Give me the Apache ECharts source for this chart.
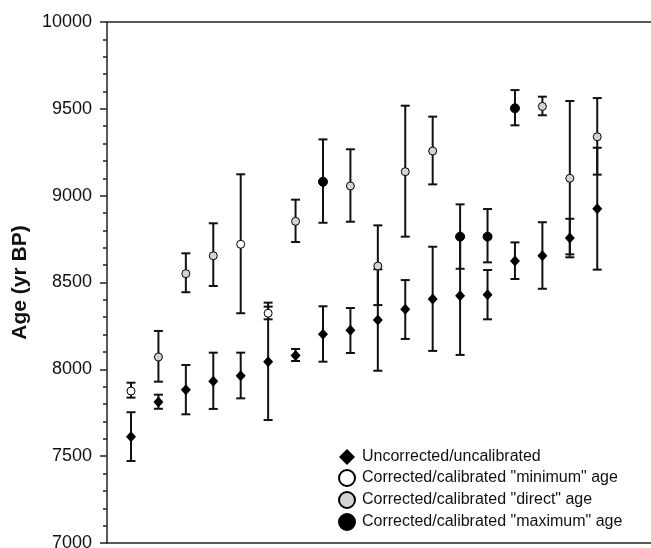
<!DOCTYPE html>
<html>
<head>
<meta charset="utf-8">
<script src="https://cdn.jsdelivr.net/npm/echarts@6/dist/echarts.min.js"></script>
<style>
html,body{margin:0;padding:0;background:#fff;}
#chart{width:651px;height:548px;}
</style>
</head>
<body>
<div id="chart"></div>
<script>
// Sample positions along the (unlabelled) x axis
const positions = [1,2,3,4,5,6,7,8,9,10,11,12,13,14,15,16,17,18];

// Uncorrected/uncalibrated (diamonds)
const uncorrVal  = [7612, 7812, 7883, 7931, 7963, 8044, 8080, 8202, 8225, 8284, 8346, 8405, 8424, 8430, 8624, 8654, 8756, 8925];
const uncorrLow  = [7472, 7773, 7741, 7772, 7833, 7708, 8048, 8044, 8094, 7992, 8175, 8106, 8083, 8288, 8520, 8464, 8645, 8574];
const uncorrHigh = [7753, 7854, 8025, 8096, 8096, 8384, 8117, 8363, 8353, 8576, 8514, 8706, 8765, 8572, 8731, 8847, 8867, 9276];

// Corrected/calibrated "minimum" age (open circles)
const minPos  = [1, 5, 6];
const minVal  = [7875, 8720, 8323];
const minLow  = [7837, 8323, 8288];
const minHigh = [7923, 9123, 8361];

// Corrected/calibrated "direct" age (grey circles)
const dirPos  = [2, 3, 4, 7, 9, 10, 11, 12, 16, 17, 18];
const dirVal  = [8071, 8551, 8654, 8852, 9056, 8595, 9138, 9257, 9514, 9100, 9339];
const dirLow  = [7929, 8444, 8480, 8733, 8850, 8370, 8764, 9065, 9463, 8662, 9121];
const dirHigh = [8221, 8668, 8841, 8977, 9267, 8829, 9518, 9455, 9570, 9545, 9562];

// Corrected/calibrated "maximum" age (black circles)
const maxPos  = [8, 13, 14, 15];
const maxVal  = [9080, 8764, 8764, 9503];
const maxLow  = [8844, 8579, 8616, 9405];
const maxHigh = [9324, 8950, 8923, 9608];

const yTicks = [7000, 7500, 8000, 8500, 9000, 9500, 10000];
const seriesNames = [
  'Uncorrected/uncalibrated',
  'Corrected/calibrated "minimum" age',
  'Corrected/calibrated "direct" age',
  'Corrected/calibrated "maximum" age'
];

const FONT = '"Liberation Sans", Arial, sans-serif';

function pts(xs, vs) { return xs.map((x, i) => [x, vs[i]]); }
function bars(xs, lo, hi) { return xs.map((x, i) => [x, lo[i], hi[i]]); }

function renderErr(params, api) {
  const x = api.value(0), lo = api.value(1), hi = api.value(2);
  const a = api.coord([x, lo]), b = api.coord([x, hi]);
  const hw = 4.5;
  const st = { stroke: '#111', lineWidth: 2, fill: null };
  return {
    type: 'group',
    children: [
      { type: 'line', shape: { x1: a[0], y1: a[1], x2: b[0], y2: b[1] }, style: st },
      { type: 'line', shape: { x1: a[0] - hw, y1: a[1], x2: a[0] + hw, y2: a[1] }, style: st },
      { type: 'line', shape: { x1: b[0] - hw, y1: b[1], x2: b[0] + hw, y2: b[1] }, style: st }
    ]
  };
}

function errSeries(id, data) {
  return {
    type: 'custom', name: id, renderItem: renderErr, data: data,
    encode: { x: 0, y: [1, 2] }, z: 2, silent: true
  };
}

const chart = echarts.init(document.getElementById('chart'), null, { renderer: 'canvas' });

const option = {
  animation: false,
  backgroundColor: '#fff',
  textStyle: { fontFamily: FONT },
  grid: { left: 107, right: 0, top: 22, bottom: 5, containLabel: false, outerBoundsMode: 'none' },
  legend: {
    data: [
      { name: seriesNames[0], itemStyle: {}, icon: 'diamond' },
      { name: seriesNames[1] },
      { name: seriesNames[2] },
      { name: seriesNames[3] }
    ],
    orient: 'vertical',
    left: 333,
    top: 444,
    itemWidth: 16,
    itemHeight: 16,
    itemGap: 4,
    textStyle: { fontSize: 16, color: '#111', fontFamily: FONT, padding: [0, 0, 0, 2] },
    selectedMode: false
  },
  xAxis: [
    {
      type: 'value', min: 0.125, max: 19.96, position: 'bottom',
      axisLine: { show: true, lineStyle: { color: '#222', width: 1.5 } },
      axisTick: { show: false }, axisLabel: { show: false }, splitLine: { show: false }
    },
    {
      type: 'value', min: 0.125, max: 19.96, position: 'top',
      axisLine: { show: true, onZero: false, lineStyle: { color: '#222', width: 1.5 } },
      axisTick: { show: false }, axisLabel: { show: false }, splitLine: { show: false }
    }
  ],
  yAxis: {
    type: 'value', min: yTicks[0], max: yTicks[yTicks.length - 1], interval: 500,
    name: 'Age (yr BP)', nameLocation: 'middle', nameGap: 62, nameRotate: 90,
    nameTextStyle: { fontSize: 21, fontWeight: 'bold', color: '#111', fontFamily: FONT },
    axisLine: { show: true, lineStyle: { color: '#222', width: 1.5 } },
    axisTick: { show: true, inside: false, length: 7, lineStyle: { color: '#222', width: 1.5 } },
    minorTick: { show: true, splitNumber: 5, length: 4, lineStyle: { color: '#222', width: 1.5 } },
    axisLabel: { fontSize: 18, color: '#111', margin: 15, fontFamily: FONT, formatter: (v) => String(v) },
    splitLine: { show: false }
  },
  series: [
    errSeries('errU', bars(positions, uncorrLow, uncorrHigh)),
    errSeries('errMin', bars(minPos, minLow, minHigh)),
    errSeries('errDir', bars(dirPos, dirLow, dirHigh)),
    errSeries('errMax', bars(maxPos, maxLow, maxHigh)),
    {
      type: 'scatter', name: seriesNames[0], data: pts(positions, uncorrVal),
      symbol: 'diamond', symbolSize: [10, 11], z: 5,
      itemStyle: { color: '#000', borderColor: '#000', borderWidth: 0, opacity: 1 }
    },
    {
      type: 'scatter', name: seriesNames[1], data: pts(minPos, minVal),
      symbol: 'circle', symbolSize: 8, z: 5,
      itemStyle: { color: '#fff', borderColor: '#000', borderWidth: 1, opacity: 1 }
    },
    {
      type: 'scatter', name: seriesNames[2], data: pts(dirPos, dirVal),
      symbol: 'circle', symbolSize: 8, z: 5,
      itemStyle: { color: '#d4d4d4', borderColor: '#000', borderWidth: 1, opacity: 1 }
    },
    {
      type: 'scatter', name: seriesNames[3], data: pts(maxPos, maxVal),
      symbol: 'circle', symbolSize: 9, z: 5,
      itemStyle: { color: '#000', borderColor: '#000', borderWidth: 1, opacity: 1 }
    }
  ]
};
chart.setOption(option);
</script>
</body>
</html>
